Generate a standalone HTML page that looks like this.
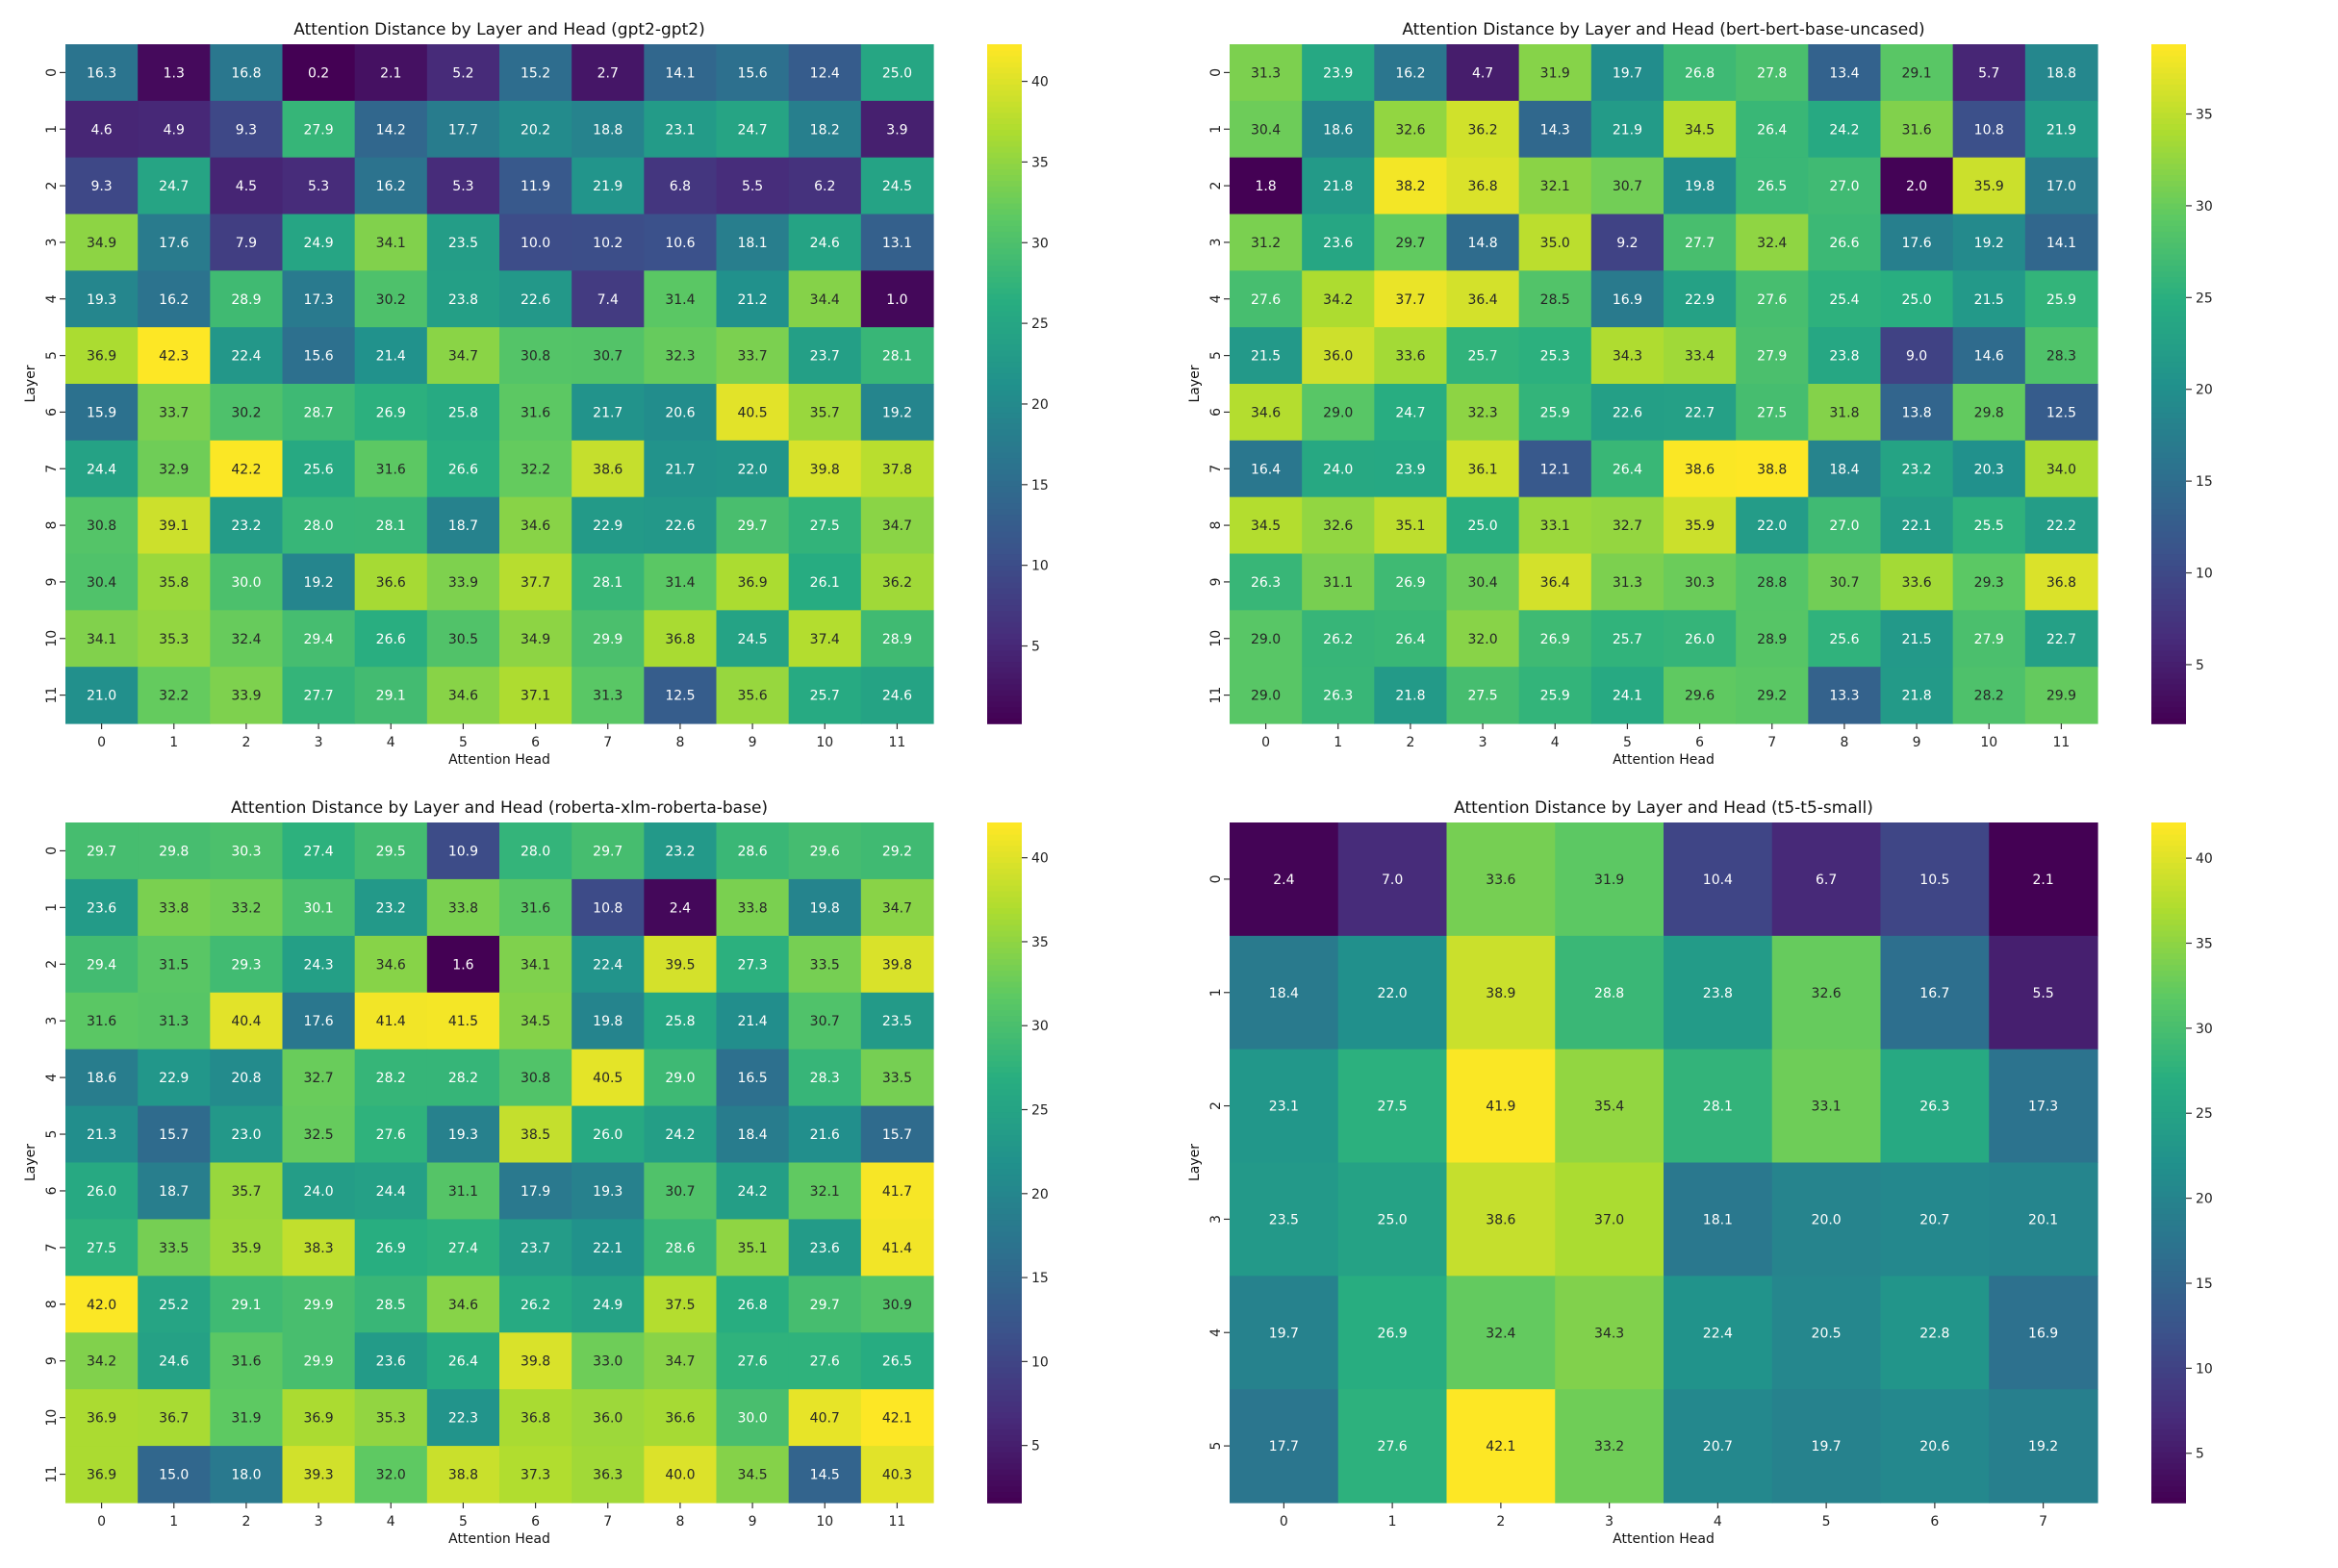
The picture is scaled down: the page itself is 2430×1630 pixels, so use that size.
<!DOCTYPE html>
<html><head><meta charset="utf-8"><style>
html,body{margin:0;padding:0;background:#fff;}
svg{display:block;font-family:"DejaVu Sans","Liberation Sans",sans-serif;}
</style></head><body>
<svg id="fig" width="2430" height="1630" viewBox="0 0 2430 1630" xmlns="http://www.w3.org/2000/svg"></svg>
<script>
const gpt2Values = [
[16.3,1.3,16.8,0.2,2.1,5.2,15.2,2.7,14.1,15.6,12.4,25.0],
[4.6,4.9,9.3,27.9,14.2,17.7,20.2,18.8,23.1,24.7,18.2,3.9],
[9.3,24.7,4.5,5.3,16.2,5.3,11.9,21.9,6.8,5.5,6.2,24.5],
[34.9,17.6,7.9,24.9,34.1,23.5,10.0,10.2,10.6,18.1,24.6,13.1],
[19.3,16.2,28.9,17.3,30.2,23.8,22.6,7.4,31.4,21.2,34.4,1.0],
[36.9,42.3,22.4,15.6,21.4,34.7,30.8,30.7,32.3,33.7,23.7,28.1],
[15.9,33.7,30.2,28.7,26.9,25.8,31.6,21.7,20.6,40.5,35.7,19.2],
[24.4,32.9,42.2,25.6,31.6,26.6,32.2,38.6,21.7,22.0,39.8,37.8],
[30.8,39.1,23.2,28.0,28.1,18.7,34.6,22.9,22.6,29.7,27.5,34.7],
[30.4,35.8,30.0,19.2,36.6,33.9,37.7,28.1,31.4,36.9,26.1,36.2],
[34.1,35.3,32.4,29.4,26.6,30.5,34.9,29.9,36.8,24.5,37.4,28.9],
[21.0,32.2,33.9,27.7,29.1,34.6,37.1,31.3,12.5,35.6,25.7,24.6]];
const bertValues = [
[31.3,23.9,16.2,4.7,31.9,19.7,26.8,27.8,13.4,29.1,5.7,18.8],
[30.4,18.6,32.6,36.2,14.3,21.9,34.5,26.4,24.2,31.6,10.8,21.9],
[1.8,21.8,38.2,36.8,32.1,30.7,19.8,26.5,27.0,2.0,35.9,17.0],
[31.2,23.6,29.7,14.8,35.0,9.2,27.7,32.4,26.6,17.6,19.2,14.1],
[27.6,34.2,37.7,36.4,28.5,16.9,22.9,27.6,25.4,25.0,21.5,25.9],
[21.5,36.0,33.6,25.7,25.3,34.3,33.4,27.9,23.8,9.0,14.6,28.3],
[34.6,29.0,24.7,32.3,25.9,22.6,22.7,27.5,31.8,13.8,29.8,12.5],
[16.4,24.0,23.9,36.1,12.1,26.4,38.6,38.8,18.4,23.2,20.3,34.0],
[34.5,32.6,35.1,25.0,33.1,32.7,35.9,22.0,27.0,22.1,25.5,22.2],
[26.3,31.1,26.9,30.4,36.4,31.3,30.3,28.8,30.7,33.6,29.3,36.8],
[29.0,26.2,26.4,32.0,26.9,25.7,26.0,28.9,25.6,21.5,27.9,22.7],
[29.0,26.3,21.8,27.5,25.9,24.1,29.6,29.2,13.3,21.8,28.2,29.9]];
const robertaValues = [
[29.7,29.8,30.3,27.4,29.5,10.9,28.0,29.7,23.2,28.6,29.6,29.2],
[23.6,33.8,33.2,30.1,23.2,33.8,31.6,10.8,2.4,33.8,19.8,34.7],
[29.4,31.5,29.3,24.3,34.6,1.6,34.1,22.4,39.5,27.3,33.5,39.8],
[31.6,31.3,40.4,17.6,41.4,41.5,34.5,19.8,25.8,21.4,30.7,23.5],
[18.6,22.9,20.8,32.7,28.2,28.2,30.8,40.5,29.0,16.5,28.3,33.5],
[21.3,15.7,23.0,32.5,27.6,19.3,38.5,26.0,24.2,18.4,21.6,15.7],
[26.0,18.7,35.7,24.0,24.4,31.1,17.9,19.3,30.7,24.2,32.1,41.7],
[27.5,33.5,35.9,38.3,26.9,27.4,23.7,22.1,28.6,35.1,23.6,41.4],
[42.0,25.2,29.1,29.9,28.5,34.6,26.2,24.9,37.5,26.8,29.7,30.9],
[34.2,24.6,31.6,29.9,23.6,26.4,39.8,33.0,34.7,27.6,27.6,26.5],
[36.9,36.7,31.9,36.9,35.3,22.3,36.8,36.0,36.6,30.0,40.7,42.1],
[36.9,15.0,18.0,39.3,32.0,38.8,37.3,36.3,40.0,34.5,14.5,40.3]];
const t5Values = [
[2.4,7.0,33.6,31.9,10.4,6.7,10.5,2.1],
[18.4,22.0,38.9,28.8,23.8,32.6,16.7,5.5],
[23.1,27.5,41.9,35.4,28.1,33.1,26.3,17.3],
[23.5,25.0,38.6,37.0,18.1,20.0,20.7,20.1],
[19.7,26.9,32.4,34.3,22.4,20.5,22.8,16.9],
[17.7,27.6,42.1,33.2,20.7,19.7,20.6,19.2]];
const titles = ["gpt2-gpt2","bert-bert-base-uncased","roberta-xlm-roberta-base","t5-t5-small"];
const cbTicksA = [5,10,15,20,25,30,35,40];
const cbTicksB = [5,10,15,20,25,30,35];

const VIR=["#440154","#472d7b","#3b528b","#2c728e","#21918c","#28ae80","#5ec962","#addc30","#fde725"];
function hex(h){return [parseInt(h.slice(1,3),16),parseInt(h.slice(3,5),16),parseInt(h.slice(5,7),16)];}
function viridis(t){t=Math.max(0,Math.min(1,t));const n=VIR.length-1;const p=t*n,i=Math.min(n-1,Math.floor(p)),f=p-i;const a=hex(VIR[i]),b=hex(VIR[i+1]);return a.map((v,k)=>Math.round(v+(b[k]-v)*f));}
function lum(c){const l=c.map(v=>{v/=255;return v<=0.03928?v/12.92:Math.pow((v+0.055)/1.055,2.4);});return 0.2126*l[0]+0.7152*l[1]+0.0722*l[2];}
const NS="http://www.w3.org/2000/svg";
const svg=document.getElementById('fig');
function mk(tag,attrs,parent,text){const e=document.createElementNS(NS,tag);for(const k in attrs)e.setAttribute(k,attrs[k]);if(text!==undefined)e.textContent=text;(parent||svg).appendChild(e);return e;}

const panels=[
 {data:gpt2Values,x0:68,x1:970,y0:46,y1:752,cb:1026,ticks:cbTicksA,t:titles[0]},
 {data:bertValues,x0:1278,x1:2180,y0:46,y1:752,cb:2236,ticks:cbTicksB,t:titles[1]},
 {data:robertaValues,x0:68,x1:970,y0:855,y1:1562,cb:1026,ticks:cbTicksA,t:titles[2]},
 {data:t5Values,x0:1278,x1:2180,y0:855,y1:1562,cb:2236,ticks:cbTicksA,t:titles[3]}];

panels.forEach((P,pi)=>{
 const g=mk('g',{});
 
 
 const rows=P.data.length, cols=P.data[0].length;
 const all=P.data.flat(); const vmin=Math.min(...all), vmax=Math.max(...all);
 const cw=(P.x1-P.x0)/cols, ch=(P.y1-P.y0)/rows;
 const xs=c=>P.x0+c*cw, ys=r=>P.y0+r*ch;
 const norm=v=>(v-vmin)/(vmax-vmin);
 for(let r=0;r<rows;r++)for(let c=0;c<cols;c++){
  const v=P.data[r][c]; const col=viridis(norm(v));
  const rc=mk('rect',{x:xs(c),y:ys(r),width:cw+0.6,height:ch+0.6,fill:`rgb(${col})`},g);
  
  
  const tx=mk('text',{x:xs(c)+cw/2,y:ys(r)+ch/2+5,'text-anchor':'middle','font-size':14,fill:lum(col)>0.408?'#262626':'#ffffff'},g,v.toFixed(1));
  
  
 }
 for(let c=0;c<cols;c++){
  const x=xs(c)+cw/2;
  mk('line',{x1:x,x2:x,y1:P.y1,y2:P.y1+6,stroke:'#333','stroke-width':1.2},g);
  const t=mk('text',{x:x,y:P.y1+24,'text-anchor':'middle','font-size':14,fill:'#222'},g,String(c));
  
  
 }
 for(let r=0;r<rows;r++){
  const y=ys(r)+ch/2;
  mk('line',{x1:P.x0-6,x2:P.x0,y1:y,y2:y,stroke:'#333','stroke-width':1.2},g);
  const t=mk('text',{x:P.x0-14,y:y,'text-anchor':'middle','font-size':14,fill:'#222',transform:`rotate(-90 ${P.x0-14} ${y})`,'dominant-baseline':'middle'},g,String(r));
  
  
 }
 const ti=mk('text',{x:(P.x0+P.x1)/2,y:P.y0-10,'text-anchor':'middle','font-size':17,fill:'#111'},g,'Attention Distance by Layer and Head ('+P.t+')');
 
 
 const xl=mk('text',{x:(P.x0+P.x1)/2,y:P.y1+42,'text-anchor':'middle','font-size':14,fill:'#111'},g,'Attention Head');
 
 
 const ylx=P.x0>1000?1246:36, yly=(P.y0+P.y1)/2;
 const yl=mk('text',{x:ylx,y:yly,'text-anchor':'middle','font-size':14,fill:'#111',transform:`rotate(-90 ${ylx} ${yly})`},g,'Layer');
 
 
 const cbw=36, cbh=P.y1-P.y0, N=120;
 const cbg=mk('g',{},g);
 
 
 for(let i=0;i<N;i++){
  const col=viridis(i/(N-1));
  mk('rect',{x:P.cb,y:P.y1-(i+1)*cbh/N,width:cbw,height:cbh/N+0.8,fill:`rgb(${col})`},cbg);
 }
 P.ticks.forEach(tv=>{
  if(tv<vmin||tv>vmax)return;
  const y=P.y1-norm(tv)*cbh;
  mk('line',{x1:P.cb+cbw,x2:P.cb+cbw+6,y1:y,y2:y,stroke:'#333','stroke-width':1.2},cbg);
  const t=mk('text',{x:P.cb+cbw+10,y:y+5,'font-size':14,fill:'#222'},cbg,String(tv));
  
  
 });
});
</script>
</body></html>
